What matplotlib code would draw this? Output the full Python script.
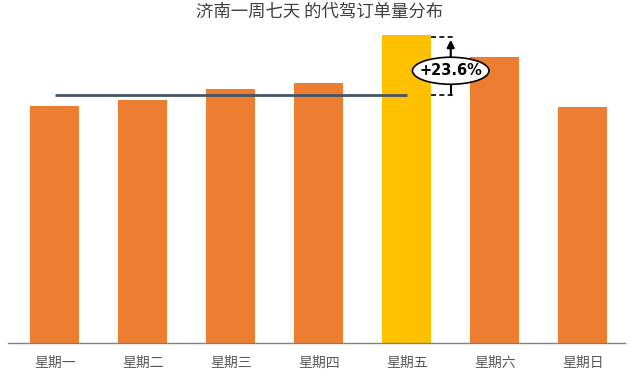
import matplotlib
matplotlib.use("Agg")
import matplotlib.pyplot as plt
from matplotlib.patches import Ellipse

plt.rcParams['font.family'] = ['Noto Sans CJK SC', 'DejaVu Sans']

days = ["星期一", "星期二", "星期三", "星期四", "星期五", "星期六", "星期日"]
orders = [237, 243, 254, 260, 308, 286, 236]
highlight = "星期五"
avg_days = ["星期一", "星期二", "星期三", "星期四"]
growth_label = "+23.6%"
title = "济南一周七天 的代驾订单量分布"

fig = plt.figure(figsize=(6.4, 3.76), dpi=100)
ax = fig.add_axes([8/640, (376-343)/376, (625-8)/640, (343-25)/376])

colors = ["#FFC000" if d == highlight else "#ED7D31" for d in days]
x = list(range(len(days)))
ax.bar(x, orders, width=0.56, color=colors, zorder=2)

avg = sum(orders[days.index(d)] for d in avg_days) / len(avg_days)
i0 = days.index(avg_days[0]); ih = days.index(highlight)
ax.plot([i0, ih], [avg, avg], color="#44546A", lw=2.0, zorder=3, solid_capstyle='butt')

top = orders[ih]
xa = ih + 0.5
ax.plot([ih + 0.28, xa + 0.03], [top - 2, top - 2], color="black", lw=1.2, ls=(0, (3, 2)), zorder=4)
ax.plot([ih + 0.28, xa + 0.03], [avg, avg], color="black", lw=1.2, ls=(0, (3, 2)), zorder=4)
mid = (top + avg) / 2 - 6
ax.annotate("", xy=(xa, top - 2), xytext=(xa, mid),
            arrowprops=dict(arrowstyle="-|>", color="black", lw=1.5, mutation_scale=11), zorder=5)
ax.plot([xa, xa], [mid, avg], color="black", lw=1.5, zorder=4)
ax.add_patch(Ellipse((xa, mid), 0.87, 27, facecolor="white", edgecolor="black", lw=1.2, zorder=6))
ax.text(xa, mid, growth_label, ha="center", va="center", fontsize=10.5, fontweight="bold",
        color="black", zorder=7, family=['DejaVu Sans'])

ax.set_xlim(-0.53, 6.48)
ax.set_ylim(0, 318)
ax.set_xticks(x)
ax.set_xticklabels(days, color="#595959", fontsize=10)
ax.tick_params(axis='x', length=0, pad=9)
ax.set_yticks([])
for s in ["top", "right", "left"]:
    ax.spines[s].set_visible(False)
ax.spines["bottom"].set_color("#808080")
ax.spines["bottom"].set_linewidth(1.0)

fig.text(0.5, 1 - 12/376, title, ha="center", va="center", fontsize=12.5, color="#404040")

fig.savefig("out.png", dpi=100)
